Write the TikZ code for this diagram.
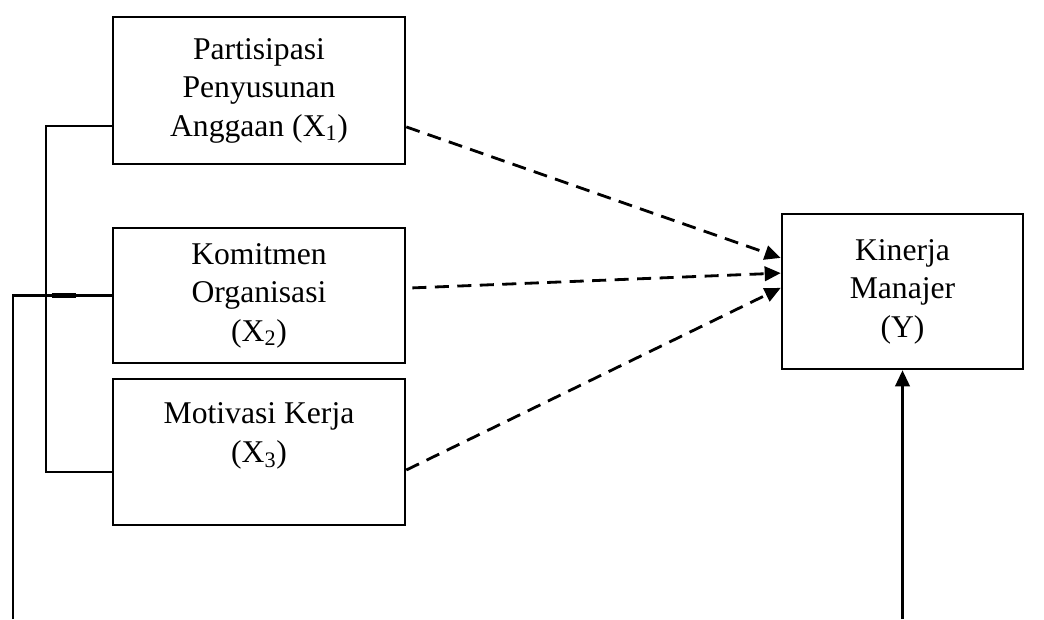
\documentclass[tikz,border=0pt]{standalone}
\usepackage{fontspec}
\setmainfont{Liberation Serif}
\usepackage{tikz}
\usetikzlibrary{positioning,calc,arrows.meta}

\begin{document}
\begin{tikzpicture}[x=0.025cm, y=-0.025cm, >={Triangle[length=4mm, width=3.6mm]}, var/.style = {draw, line width=1.8pt, align=center, inner sep=0pt, font=\fontsize{22.5}{27.4}\selectfont}, every edge/.append style={line width=2pt, dash pattern=on 10pt off 6pt}, link/.style={line width=1.8pt}]

\useasboundingbox (0,0) rectangle (1044,619);

% variabel bebas
\node[var, minimum width=7.3cm, minimum height=3.675cm] (x1) at (259,90.5) {Partisipasi\\Penyusunan\\Anggaan (X\textsubscript{1})};
\node[var, minimum width=7.3cm, minimum height=3.375cm] (x2) at (259,295.5) {Komitmen\\Organisasi\\(X\textsubscript{2})};
\node[var, minimum width=7.3cm, minimum height=3.65cm] (x3) at (259,452) {Motivasi Kerja\\(X\textsubscript{3})\\ \mbox{}};

% variabel terikat
\node[var, minimum width=6.025cm, minimum height=3.875cm] (y) at (902.5,291.5) {Kinerja\\Manajer\\(Y)};

\coordinate (brk) at (46,0);
\coordinate (out) at (13,619);
\coordinate (bot) at (902.5,619);

% kurung kiri
\draw[link] ([yshift=-0.89cm]x1.west) -- ([yshift=-0.89cm]x1.west -| brk) -- ([yshift=-0.5cm]x3.west -| brk) -- ([yshift=-0.5cm]x3.west);
\draw[link] (out) -- (out |- x2.west) -- (x2.west);
\draw[line width=3pt] ([xshift=-1.5cm]x2.west) -- ([xshift=-0.9cm]x2.west);

\path[->]
 ([yshift=-0.91cm]x1.east) edge ([yshift=0.84cm]y.west)
 ([xshift=0.15cm, yshift=0.19cm]x2.east) edge ([yshift=0.46cm]y.west)
 ([yshift=-0.45cm]x3.east) edge ([yshift=0.09cm]y.west);

\draw[->, link] (bot) -- (y.south);
\end{tikzpicture}
\end{document}
